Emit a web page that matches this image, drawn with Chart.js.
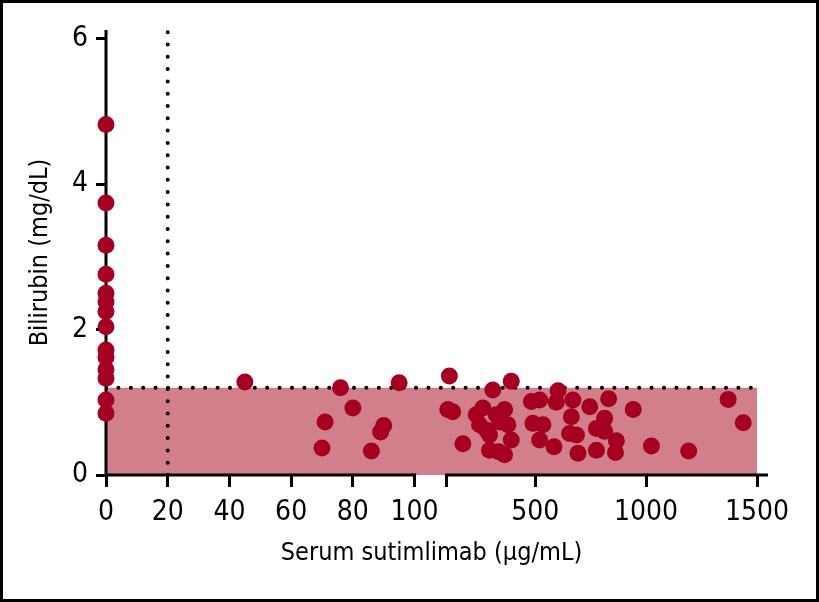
<!DOCTYPE html>
<html>
<head>
<meta charset="utf-8">
<script src="https://cdn.jsdelivr.net/npm/chart.js@4.4.1/dist/chart.umd.min.js"></script>
<style>
  html, body { margin: 0; padding: 0; background: #fff; }
  #frame { width: 819px; height: 602px; box-sizing: border-box; border: 3px solid #000; }
  #frame canvas { display: block; }
</style>
</head>
<body>
<div id="frame"><canvas id="bili" width="813" height="596"></canvas></div>
<script>
// axis ticks
const xTicks = [0, 20, 40, 60, 80, 100, 500, 1000, 1500];
const yTicks = [0, 2, 4, 6];
const BREAK_AT = 100;   // x axis is split here
const X_MAX = 1500;
const Y_MAX = 6.12;
const ULN = 1.2;        // upper limit of normal bilirubin
const CUTOFF = 20;      // serum sutimlimab threshold

// patients with no measurable drug
const concZero = [0, 0, 0, 0, 0, 0, 0, 0, 0, 0, 0, 0, 0, 0];
const biliZero = [4.82, 3.74, 3.16, 2.76, 2.50, 2.38, 2.25, 2.04, 1.72, 1.62, 1.45, 1.33, 1.03, 0.85];

// 0-100 ug/mL segment
const concLow = [45, 70, 71, 76, 80, 86, 89, 90, 95];
const biliLow = [1.28, 0.37, 0.73, 1.20, 0.92, 0.33, 0.59, 0.68, 1.27];

// 100-1500 ug/mL segment
const concHigh = [113, 106, 128, 309, 392, 174, 234, 264, 249, 294, 324, 362, 377, 392, 294, 362,
  280, 340, 335, 483, 520, 490, 535, 520, 585, 595, 603, 670, 746, 831, 942, 663, 813, 776,
  813, 655, 686, 866, 693, 776, 862, 1024, 1192, 1370, 1438];
const biliHigh = [1.36, 0.90, 0.87, 1.17, 1.29, 0.43, 0.83, 0.92, 0.69, 0.55, 0.83, 0.90, 0.69, 0.48, 0.34, 0.28,
  0.62, 0.73, 0.32, 1.01, 1.03, 0.71, 0.69, 0.48, 0.39, 1.00, 1.16, 1.03, 0.94, 1.05, 0.90, 0.80, 0.78, 0.64,
  0.60, 0.57, 0.55, 0.47, 0.30, 0.34, 0.31, 0.40, 0.33, 1.04, 0.72];

const SEG_LEFT = 0.474;  // share of width for 0-100
const SEG_GAP = 0.049;   // blank between the two segments
const FONT = "'DejaVu Sans Condensed', 'Liberation Sans Narrow', sans-serif";

// linear scale with a break at BREAK_AT
class BrokenLinearScale extends Chart.LinearScale {
  getPixelForValue(value) {
    if (value === null || isNaN(value)) return NaN;
    let f;
    if (value <= BREAK_AT) {
      f = value / BREAK_AT * SEG_LEFT;
    } else {
      f = SEG_LEFT + SEG_GAP + (value - BREAK_AT) / (X_MAX - BREAK_AT) * (1 - SEG_LEFT - SEG_GAP);
    }
    return this.getPixelForDecimal(f);
  }
  getValueForPixel(pixel) {
    const f = this.getDecimalForPixel(pixel);
    if (f <= SEG_LEFT) return f / SEG_LEFT * BREAK_AT;
    return BREAK_AT + (f - SEG_LEFT - SEG_GAP) / (1 - SEG_LEFT - SEG_GAP) * (X_MAX - BREAK_AT);
  }
}
BrokenLinearScale.id = 'brokenLinear';
BrokenLinearScale.defaults = Chart.LinearScale.defaults;
Chart.register(BrokenLinearScale);

const SECOND_START = BREAK_AT + 1e-6;

function toPoints(xs, ys) {
  return xs.map((x, i) => ({ x: x, y: ys[i] }));
}
const patients = [].concat(
  toPoints(concZero, biliZero),
  toPoints(concLow, biliLow),
  toPoints(concHigh, biliHigh)
);

// axis lines drawn right after the shaded band so dots sit on top
const axisLines = {
  id: 'axisLines',
  afterDatasetDraw(chart, args) {
    if (args.index !== 0) return;
    const ctx = chart.ctx;
    const x = chart.scales.x;
    const y = chart.scales.y;
    const y0 = y.getPixelForValue(0);
    const x0 = x.getPixelForValue(0);
    ctx.save();
    ctx.strokeStyle = '#000';
    ctx.lineWidth = 3;
    ctx.beginPath();
    ctx.moveTo(x0, y.getPixelForValue(Y_MAX));
    ctx.lineTo(x0, y0);
    ctx.moveTo(x0 - 1.5, y0);
    ctx.lineTo(x.getPixelForValue(BREAK_AT) + 1.5, y0);
    ctx.moveTo(x.getPixelForValue(SECOND_START) - 1.5, y0);
    ctx.lineTo(x.getPixelForValue(X_MAX) + 11, y0);
    ctx.stroke();
    ctx.restore();
  }
};

new Chart(document.getElementById('bili'), {
  type: 'scatter',
  data: {
    datasets: [{
      type: 'line',
      data: [{ x: 0, y: ULN }, { x: X_MAX, y: ULN }],
      fill: 'origin',
      backgroundColor: '#d17f8a',
      borderWidth: 0,
      pointRadius: 0,
      order: 3
    }, {
      type: 'line',
      data: [{ x: 0, y: ULN }, { x: X_MAX, y: ULN }],
      borderColor: '#000',
      borderWidth: 4,
      borderDash: [0, 12.4],
      borderCapStyle: 'round',
      fill: false,
      pointRadius: 0,
      order: 2
    }, {
      type: 'line',
      data: [{ x: CUTOFF, y: 0 }, { x: CUTOFF, y: Y_MAX }],
      borderColor: '#000',
      borderWidth: 4,
      borderDash: [0, 12.3],
      borderCapStyle: 'round',
      fill: false,
      pointRadius: 0,
      order: 2
    }, {
      data: patients,
      backgroundColor: '#a50021',
      borderColor: '#a50021',
      borderWidth: 0,
      pointRadius: 8.5,
      clip: false,
      order: 1
    }]
  },
  options: {
    responsive: false,
    animation: false,
    events: [],
    layout: { padding: { left: 0, right: 59, top: 27, bottom: 0 } },
    plugins: { legend: { display: false }, tooltip: { enabled: false } },
    scales: {
      x: {
        type: 'brokenLinear',
        min: 0,
        max: X_MAX,
        afterBuildTicks: (scale) => {
          scale.ticks = xTicks.concat([SECOND_START]).map(v => ({ value: v }));
        },
        afterFit: (scale) => { scale.height = 124; },
        border: { display: false },
        grid: { drawOnChartArea: false, color: '#000', lineWidth: 3, tickLength: 12 },
        ticks: {
          autoSkip: false,
          maxRotation: 0,
          padding: 9,
          color: '#000',
          font: { family: FONT, size: 28 },
          callback: (v) => (v === SECOND_START ? '' : String(v))
        },
        title: {
          display: true,
          text: 'Serum sutimlimab (\u03BCg/mL)',
          color: '#000',
          font: { family: FONT, size: 25 },
          padding: { top: 0, bottom: 31 }
        }
      },
      y: {
        min: 0,
        max: Y_MAX,
        afterBuildTicks: (scale) => {
          scale.ticks = yTicks.map(v => ({ value: v }));
        },
        afterFit: (scale) => { scale.width = 103; },
        border: { display: false },
        grid: { drawOnChartArea: false, color: '#000', lineWidth: 3, tickLength: 10 },
        ticks: {
          padding: 8,
          color: '#000',
          font: { family: FONT, size: 28 }
        },
        title: {
          display: true,
          text: 'Bilirubin (mg/dL)',
          color: '#000',
          font: { family: FONT, size: 25 },
          padding: { top: 22, bottom: 0 }
        }
      }
    }
  },
  plugins: [axisLines]
});
</script>
</body>
</html>
